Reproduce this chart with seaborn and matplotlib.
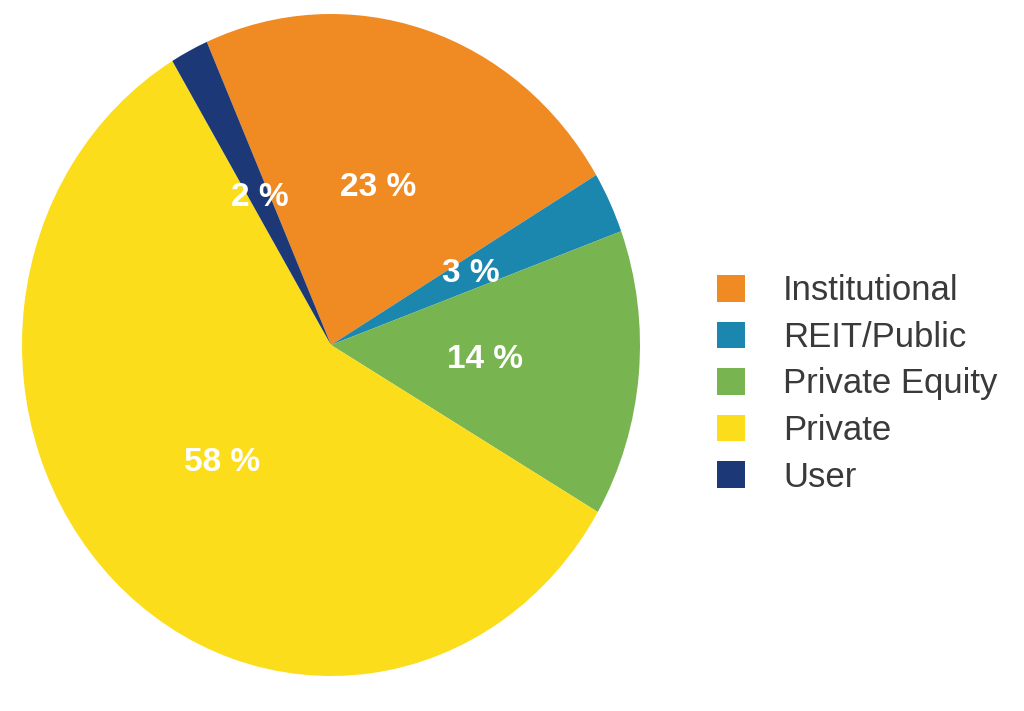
import numpy as np
import matplotlib
matplotlib.use("Agg")
import matplotlib.pyplot as plt
import seaborn as sns

# data
categories = ["Institutional", "REIT/Public", "Private Equity", "Private", "User"]
shares = [23, 3, 14, 58, 2]
pct_labels = ["23 %", "3 %", "14 %", "58 %", "2 %"]
colors = ["#F08A22", "#1B87AE", "#78B450", "#FCDD1B", "#1C3876"]

sns.set_theme(style="white")
plt.rcParams["font.family"] = ["Liberation Sans", "DejaVu Sans"]

fig = plt.figure(figsize=(10.24, 7.11), dpi=100)
# pie is slightly taller than wide in the reference, so aspect is left auto
ax = fig.add_axes([22 / 1024, 1 - 676 / 711, 618 / 1024, 662 / 711])

wedges, _ = ax.pie(shares, colors=colors, startangle=113.7, counterclock=False,
                   radius=1.0, wedgeprops=dict(linewidth=0))

# percentage labels at half the radius, in white bold
for w, lab in zip(wedges, pct_labels):
    ang = np.deg2rad((w.theta1 + w.theta2) / 2)
    ax.text(0.5 * np.cos(ang), 0.5 * np.sin(ang), lab, ha="center", va="center",
            color="white", fontsize=24, fontweight="bold")

ax.set_xlim(-1, 1)
ax.set_ylim(-1, 1)
ax.set_aspect("auto")
ax.axis("off")

leg = fig.legend(wedges, categories, loc="center left",
                 bbox_to_anchor=(717 / 1024, 1 - 384 / 711),
                 frameon=False, fontsize=25, handlelength=0.8, handleheight=0.8,
                 handletextpad=1.1, labelspacing=0.39, borderpad=0, borderaxespad=0)
for t in leg.get_texts():
    t.set_color("#3a3a3a")

fig.savefig("out.png", dpi=100, facecolor="white")
